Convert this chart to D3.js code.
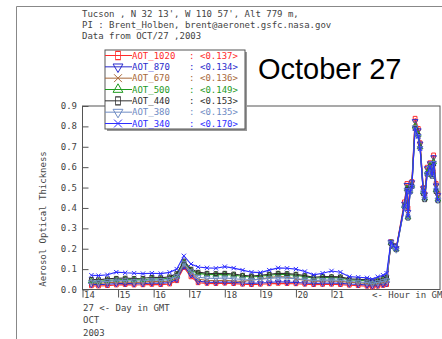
<!DOCTYPE html>
<html>
<head>
<meta charset="utf-8">
<script src="https://cdn.jsdelivr.net/npm/d3@7"></script>
<style>
  html, body { margin: 0; padding: 0; background: #fff; }
  svg { display: block; }
  .mono { font-family: "DejaVu Sans Mono", monospace; font-size: 9px; }
</style>
</head>
<body>
<svg id="chart" width="442" height="339"></svg>
<script>
// 觀測時間 (GMT 小時)
const hours = [14.25, 14.45, 14.7, 14.95, 15.2, 15.45, 15.7, 15.95, 16.2, 16.45, 16.65, 16.85, 17.05, 17.25, 17.5, 17.75, 18.0, 18.25, 18.5, 18.75, 19.0, 19.25, 19.5, 19.75, 20.0, 20.25, 20.5, 20.75, 21.0, 21.25, 21.5, 21.75, 22.0, 22.15, 22.3, 22.45, 22.55,
  22.67, 22.74, 22.82, 23.05, 23.12, 23.15, 23.21, 23.26, 23.35, 23.44, 23.49, 23.58, 23.62, 23.69, 23.77, 23.83, 23.87, 23.94, 23.99];

const aot1020 = [0.018, 0.017, 0.019, 0.022, 0.024, 0.022, 0.023, 0.025, 0.024, 0.027, 0.043, 0.108, 0.062, 0.033, 0.030, 0.029, 0.031, 0.029, 0.026, 0.024, 0.026, 0.028, 0.030, 0.029, 0.028, 0.026, 0.024, 0.025, 0.026, 0.024, 0.021, 0.019, 0.016, 0.012, 0.016, 0.020, 0.024,
  0.235, 0.217, 0.204, 0.430, 0.520, 0.400, 0.505, 0.530, 0.840, 0.790, 0.720, 0.500, 0.470, 0.600, 0.622, 0.580, 0.660, 0.520, 0.470];
const aot870 = [0.025, 0.024, 0.026, 0.029, 0.030, 0.028, 0.029, 0.032, 0.030, 0.034, 0.050, 0.115, 0.072, 0.040, 0.036, 0.035, 0.037, 0.035, 0.032, 0.030, 0.032, 0.034, 0.038, 0.036, 0.034, 0.032, 0.030, 0.031, 0.032, 0.030, 0.027, 0.025, 0.022, 0.018, 0.022, 0.026, 0.030,
  0.233, 0.215, 0.202, 0.420, 0.512, 0.380, 0.498, 0.525, 0.825, 0.780, 0.715, 0.496, 0.466, 0.594, 0.618, 0.577, 0.648, 0.510, 0.462];
const aot670 = [0.032, 0.030, 0.033, 0.036, 0.037, 0.035, 0.036, 0.040, 0.038, 0.042, 0.058, 0.122, 0.082, 0.050, 0.045, 0.043, 0.045, 0.042, 0.040, 0.045, 0.052, 0.058, 0.065, 0.060, 0.052, 0.045, 0.040, 0.042, 0.042, 0.040, 0.035, 0.033, 0.030, 0.026, 0.030, 0.035, 0.040,
  0.232, 0.214, 0.200, 0.415, 0.505, 0.370, 0.492, 0.518, 0.815, 0.772, 0.708, 0.490, 0.460, 0.585, 0.612, 0.570, 0.638, 0.502, 0.455];
const aot500 = [0.042, 0.040, 0.044, 0.048, 0.049, 0.047, 0.048, 0.053, 0.051, 0.055, 0.070, 0.132, 0.094, 0.079, 0.074, 0.072, 0.074, 0.070, 0.065, 0.061, 0.065, 0.070, 0.075, 0.073, 0.070, 0.063, 0.055, 0.059, 0.058, 0.057, 0.047, 0.045, 0.042, 0.037, 0.043, 0.049, 0.055,
  0.230, 0.212, 0.198, 0.410, 0.495, 0.355, 0.485, 0.510, 0.800, 0.760, 0.700, 0.478, 0.447, 0.575, 0.607, 0.562, 0.625, 0.488, 0.442];
const aot440 = [0.050, 0.048, 0.052, 0.055, 0.056, 0.054, 0.055, 0.060, 0.058, 0.062, 0.078, 0.140, 0.100, 0.085, 0.080, 0.078, 0.080, 0.076, 0.070, 0.066, 0.070, 0.075, 0.080, 0.078, 0.075, 0.068, 0.060, 0.064, 0.063, 0.062, 0.052, 0.050, 0.047, 0.042, 0.048, 0.054, 0.060,
  0.225, 0.210, 0.195, 0.405, 0.490, 0.350, 0.478, 0.505, 0.790, 0.755, 0.695, 0.470, 0.440, 0.565, 0.600, 0.555, 0.615, 0.480, 0.435];
const aot380 = [0.038, 0.037, 0.040, 0.043, 0.044, 0.042, 0.043, 0.047, 0.045, 0.049, 0.064, 0.128, 0.088, 0.060, 0.056, 0.054, 0.057, 0.053, 0.049, 0.047, 0.050, 0.054, 0.058, 0.056, 0.053, 0.049, 0.044, 0.046, 0.047, 0.045, 0.039, 0.037, 0.034, 0.030, 0.035, 0.040, 0.045,
  0.228, 0.208, 0.194, 0.402, 0.487, 0.353, 0.476, 0.502, 0.795, 0.752, 0.692, 0.476, 0.446, 0.566, 0.598, 0.558, 0.620, 0.486, 0.438];
const aot340 = [0.070, 0.068, 0.072, 0.085, 0.082, 0.080, 0.078, 0.080, 0.078, 0.084, 0.100, 0.165, 0.125, 0.110, 0.106, 0.104, 0.112, 0.105, 0.095, 0.085, 0.083, 0.095, 0.106, 0.104, 0.100, 0.088, 0.072, 0.080, 0.091, 0.085, 0.063, 0.060, 0.057, 0.050, 0.062, 0.070, 0.080,
  0.235, 0.215, 0.200, 0.410, 0.490, 0.360, 0.480, 0.505, 0.790, 0.750, 0.690, 0.480, 0.450, 0.570, 0.600, 0.560, 0.620, 0.490, 0.440];

const seriesNames = ["AOT_1020", "AOT_870", "AOT_670", "AOT_500", "AOT_440", "AOT_380", "AOT_340"];
const seriesMeans = ["<0.137>", "<0.134>", "<0.136>", "<0.149>", "<0.153>", "<0.135>", "<0.170>"];
const seriesValues = [aot1020, aot870, aot670, aot500, aot440, aot380, aot340];
const seriesColors = ["#ff2b2b", "#2b2bcc", "#a8683a", "#1f9a1f", "#303030", "#6f8cc4", "#2e2eff"];

const yTicks = [0.0, 0.1, 0.2, 0.3, 0.4, 0.5, 0.6, 0.7, 0.8, 0.9];
const xTicks = [14, 15, 16, 17, 18, 19, 20, 21];
const headerLines = ["Tucson , N 32 13', W 110 57', Alt 779 m,", "PI : Brent_Holben, brent@aeronet.gsfc.nasa.gov", "Data from OCT/27 ,2003"];
const dayLines = ["27  <- Day in GMT", "OCT", "2003"];

const svg = d3.select("#chart");
const W = 442, H = 339;
const plot = { left: 82.5, top: 106, right: 440, bottom: 289.5 };

const x = d3.scaleLinear().domain([14, 24.05]).range([plot.left, plot.right]);
const y = d3.scaleLinear().domain([0, 0.9]).range([plot.bottom, plot.top]);

// 外框
svg.append("path").attr("d", `M16.5,${H} V6.5 H${W}`).attr("fill", "none").attr("stroke", "#888").attr("stroke-width", 1);

// 標頭
svg.append("g").selectAll("text").data(headerLines).join("text")
  .attr("class", "mono").attr("x", 82).attr("y", (d, i) => 17 + i * 11)
  .attr("fill", "#444").text(d => d);

// 繪圖框
svg.append("rect").attr("x", plot.left).attr("y", plot.top)
  .attr("width", plot.right - plot.left).attr("height", plot.bottom - plot.top)
  .attr("fill", "none").attr("stroke", "#555").attr("stroke-width", 1);

// y 軸刻度 (朝內)
const gy = svg.append("g").attr("transform", `translate(${plot.left},0)`)
  .call(d3.axisRight(y).tickValues(yTicks).tickSize(6).tickFormat(""));
gy.select(".domain").remove();
gy.selectAll("line").attr("stroke", "#555");
svg.append("g").selectAll("text").data(yTicks).join("text")
  .attr("class", "mono").attr("x", 77).attr("y", d => y(d) + 3)
  .attr("text-anchor", "end").attr("fill", "#444").text(d => d.toFixed(1));

// x 軸刻度
const gx = svg.append("g").attr("transform", `translate(0,${plot.bottom})`)
  .call(d3.axisBottom(x).tickValues(xTicks).tickSize(8).tickFormat(""));
gx.select(".domain").remove();
gx.selectAll("line").attr("stroke", "#555");
svg.append("g").selectAll("text").data(xTicks).join("text")
  .attr("class", "mono").attr("x", d => x(d) + 1.5).attr("y", plot.bottom + 8.5)
  .attr("fill", "#444").text(d => d);
// 原圖此行在右緣被截斷
svg.append("text").attr("class", "mono").attr("x", 372).attr("y", plot.bottom + 8.5)
  .attr("fill", "#444").text("<- Hour in GMT");

svg.append("g").selectAll("text").data(dayLines).join("text")
  .attr("class", "mono").attr("x", 83).attr("y", (d, i) => 310.5 + i * 12.5)
  .attr("fill", "#444").text(d => d);

// y 軸標題
svg.append("text").attr("class", "mono")
  .attr("transform", "translate(46,219) rotate(-90)")
  .attr("text-anchor", "middle").attr("fill", "#444").text("Aerosol Optical Thickness");

// 符號
const symbolFor = [
  { type: d3.symbolSquare, rot: 0 },
  { type: d3.symbolTriangle, rot: 180 },
  { type: d3.symbolTimes, rot: 0 },
  { type: d3.symbolTriangle, rot: 0 },
  { type: d3.symbolSquare, rot: 0 },
  { type: d3.symbolTriangle, rot: 180 },
  { type: d3.symbolTimes, rot: 0 }
];

const line = d3.line().x(d => x(d[0])).y(d => y(d[1]));
const dataG = svg.append("g");
seriesValues.forEach((vals, i) => {
  const pts = hours.map((h, j) => [h, vals[j]]);
  const g = dataG.append("g");
  g.append("path").datum(pts).attr("d", line).attr("fill", "none")
    .attr("stroke", seriesColors[i]).attr("stroke-width", 1.1);
  g.selectAll("path.m").data(pts).join("path").attr("class", "m")
    .attr("d", d3.symbol(symbolFor[i].type, 14))
    .attr("transform", d => `translate(${x(d[0])},${y(d[1])}) rotate(${symbolFor[i].rot})`)
    .attr("fill", "none").attr("stroke", seriesColors[i]).attr("stroke-width", 1);
});

// 圖例
const lg = { x: 105, y: 50, w: 140, h: 79 };
svg.append("rect").attr("x", lg.x + 2).attr("y", lg.y + 2).attr("width", lg.w).attr("height", lg.h).attr("fill", "#999");
svg.append("rect").attr("x", lg.x).attr("y", lg.y).attr("width", lg.w).attr("height", lg.h)
  .attr("fill", "#fff").attr("stroke", "#555").attr("stroke-width", 1);
const rowY = d3.scalePoint().domain(seriesNames).range([55.5, 123.5]);
seriesNames.forEach((name, i) => {
  const cy = rowY(name);
  const c = seriesColors[i];
  svg.append("line").attr("x1", lg.x).attr("x2", 132).attr("y1", cy).attr("y2", cy).attr("stroke", c);
  svg.append("path").attr("d", d3.symbol(symbolFor[i].type, 42))
    .attr("transform", `translate(118,${cy}) rotate(${symbolFor[i].rot}) scale(${i === 4 || i === 0 ? "0.75,1.25" : "1"})`)
    .attr("fill", "none").attr("stroke", c).attr("stroke-width", 1);
  svg.append("text").attr("class", "mono").attr("x", 132).attr("y", cy + 3.2).attr("fill", c).text(name);
  svg.append("text").attr("class", "mono").attr("x", 189).attr("y", cy + 3.2).attr("fill", c).text(":");
  svg.append("text").attr("class", "mono").attr("x", 200).attr("y", cy + 3.2).attr("fill", c).text(seriesMeans[i]);
});

// 註解
svg.append("text").attr("x", 258).attr("y", 79)
  .attr("font-family", "Liberation Sans, Arial, sans-serif").attr("font-size", 29)
  .attr("fill", "#000").text("October 27");
</script>
</body>
</html>
